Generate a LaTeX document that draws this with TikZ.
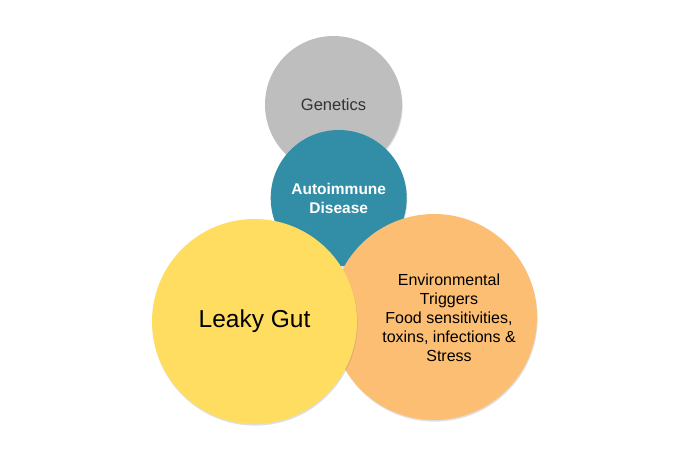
\documentclass[tikz,border=0pt]{standalone}
\usepackage{fontspec}
\setmainfont{Liberation Sans}
\usetikzlibrary{shadows}

\definecolor{genegray}{RGB}{190,190,190}
\definecolor{autoteal}{RGB}{50,141,166}
\definecolor{gutyellow}{RGB}{254,221,96}
\definecolor{envorange}{RGB}{252,190,115}

\tikzset{
  blob/.style={circle, inner sep=0pt, align=center,
    drop shadow={shadow xshift=0.6pt, shadow yshift=-1.6pt, opacity=0.25}},
}

\begin{document}
\begin{tikzpicture}[x=1pt,y=-1pt]
            \useasboundingbox [fill=white] (0,0) rectangle (691,461);
            \node [blob,fill=genegray,minimum size=137pt,text=black!80,font=\fontsize{16.5}{19}\selectfont] (genetics) at (333.5,104.5) {Genetics};
            \node [blob,fill=autoteal,minimum size=136pt,text=white,font=\fontsize{15.5}{19}\selectfont\bfseries] (autoimmune) at (338.7,198) {Autoimmune\\Disease};
            \node [blob,fill=envorange,minimum size=206pt] (environ) at (434,317) {};
            \node [blob,fill=gutyellow,minimum size=205pt,font=\fontsize{24.5}{28}\selectfont] (leaky) at (254.5,321.5) {Leaky Gut};
            \node [align=center,font=\fontsize{16}{19}\selectfont] (envtext) at (449,318) {Environmental\\ Triggers\\ Food sensitivities,\\toxins, infections \&\\Stress};
        \end{tikzpicture}
\end{document}
